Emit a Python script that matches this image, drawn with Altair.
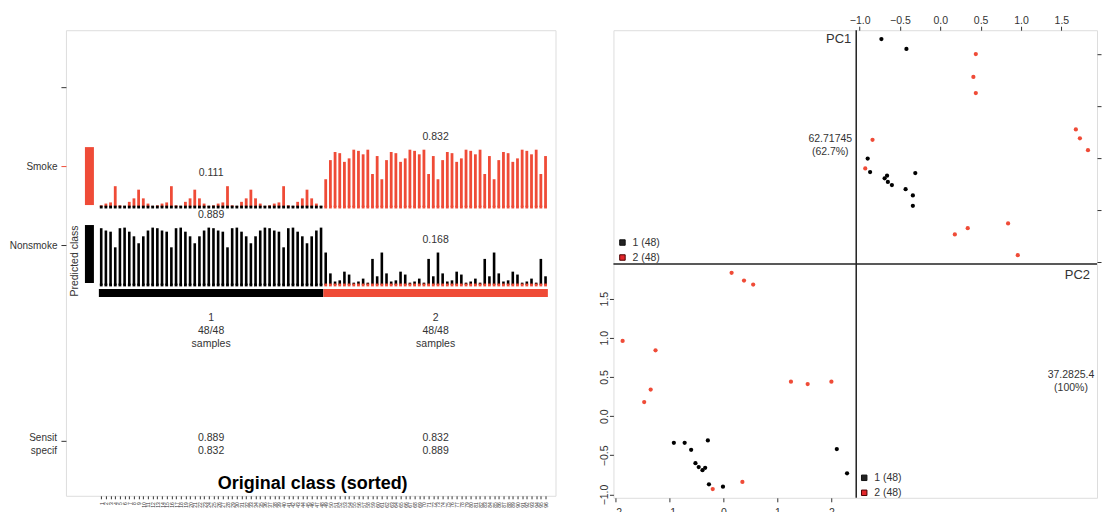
import altair as alt
import pandas as pd

RED = "#EF4B37"
INK = "#333333"
FONT = "Liberation Sans"

# ---------------- data ----------------
classes = ["1", "2"]
n_per_class = [48, 48]
n_correct = [48, 48]
row_labels = ["Smoke", "Nonsmoke"]
mean_smoke = [0.111, 0.832]
mean_nonsmoke = [0.889, 0.168]
sensitivity = [0.889, 0.832]
specificity = [0.832, 0.889]

smoke_prob = [
    # class 1
    0.03, 0.06, 0.08, 0.36, 0.03, 0.02, 0.09, 0.15, 0.30, 0.15, 0.06, 0.02,
    0.03, 0.06, 0.08, 0.36, 0.03, 0.02, 0.09, 0.15, 0.30, 0.15, 0.06, 0.02,
    0.03, 0.06, 0.08, 0.36, 0.03, 0.02, 0.09, 0.15, 0.30, 0.15, 0.06, 0.02,
    0.03, 0.06, 0.08, 0.36, 0.03, 0.02, 0.09, 0.15, 0.30, 0.15, 0.06, 0.02,
    # class 2
    0.48, 0.81, 0.95, 0.93, 0.78, 0.84, 0.99, 0.97, 0.91, 0.99, 0.57, 0.88,
    0.48, 0.81, 0.95, 0.93, 0.78, 0.84, 0.99, 0.97, 0.91, 0.99, 0.57, 0.88,
    0.48, 0.81, 0.95, 0.93, 0.78, 0.84, 0.99, 0.97, 0.91, 0.99, 0.57, 0.88,
    0.48, 0.81, 0.95, 0.93, 0.78, 0.84, 0.99, 0.97, 0.91, 0.99, 0.57, 0.88,
]
nonsmoke_prob = [
    # class 1
    0.98, 0.94, 0.92, 0.65, 0.98, 0.99, 0.92, 0.84, 0.72, 0.84, 0.94, 0.99,
    0.98, 0.94, 0.92, 0.65, 0.98, 0.99, 0.92, 0.84, 0.72, 0.84, 0.94, 0.99,
    0.98, 0.94, 0.92, 0.65, 0.98, 0.99, 0.92, 0.84, 0.72, 0.84, 0.94, 0.99,
    0.98, 0.94, 0.92, 0.65, 0.98, 0.99, 0.92, 0.84, 0.72, 0.84, 0.94, 0.99,
    # class 2
    0.56, 0.20, 0.06, 0.08, 0.23, 0.18, 0.04, 0.06, 0.11, 0.04, 0.45, 0.15,
    0.56, 0.20, 0.06, 0.08, 0.23, 0.18, 0.04, 0.06, 0.11, 0.04, 0.45, 0.15,
    0.56, 0.20, 0.06, 0.08, 0.23, 0.18, 0.04, 0.06, 0.11, 0.04, 0.45, 0.15,
    0.56, 0.20, 0.06, 0.08, 0.23, 0.18, 0.04, 0.06, 0.11, 0.04, 0.45, 0.15,
]

pc1_c1 = [-0.73, -0.42, -0.90, -0.87, -0.69, -0.66, -0.65, -0.60, -0.43, -0.34, -0.34, -0.31]
pc2_c1 = [2.29, 2.10, -0.01, -0.27, -0.39, -0.34, -0.46, -0.52, -0.60, -0.72, -0.92, -0.29]
pc1_c2 = [0.44, 0.41, 0.44, 1.68, 1.73, 1.83, -0.84, -0.93, 0.18, 0.34, 0.84, 0.96]
pc2_c2 = [2.00, 1.56, 1.25, 0.55, 0.38, 0.15, 0.35, -0.20, -1.47, -1.35, -1.26, -1.87]
pc_names = ["PC1", "PC2"]
pc_var_text = ["62.71745", "37.2825.4"]
pc_cum_pct = ["62.7%", "100%"]
pc1_ticks = [-1.0, -0.5, 0.0, 0.5, 1.0, 1.5]
pc2_ticks = [-2, -1, 0, 1, 2]

# ---------------- left chart: class probabilities ----------------
n = sum(n_per_class)
cls_col = [c for c, k in zip(classes, n_per_class) for _ in range(k)]
samples = pd.DataFrame({"sample": list(range(1, n + 1)), "cls": cls_col,
                        "smoke": smoke_prob, "nonsmoke": nonsmoke_prob})
SM_BASE, NS_BASE, BAR_H = 289, 211, 58
samples["s0"] = SM_BASE
samples["s1"] = SM_BASE + samples["smoke"] * BAR_H
samples["n0"] = NS_BASE
samples["n1"] = NS_BASE + samples["nonsmoke"] * BAR_H

x0, x1, xc = [], [], []
start = 0.5
for k in n_per_class:
    x0.append(start)
    x1.append(start + k)
    xc.append(start + k / 2)
    start += k
max_s = samples.groupby("cls")["smoke"].max().reindex(classes).tolist()
max_n = samples.groupby("cls")["nonsmoke"].max().reindex(classes).tolist()
summ = pd.DataFrame({
    "cls": classes, "x0": x0, "x1": x1, "xc": xc,
    "ms_txt": [f"{v:.3f}" for v in mean_smoke],
    "ms_y": [SM_BASE + m * BAR_H + 13 for m in max_s],
    "mn_txt": [f"{v:.3f}" for v in mean_nonsmoke],
    "mn_y": [NS_BASE + m * BAR_H + 13 for m in max_n],
    "lab_txt": [f"{c}\n{a}/{b}\nsamples" for c, a, b in zip(classes, n_correct, n_per_class)],
    "lab_y": [178] * len(classes),
    "se_txt": [f"{a:.3f}\n{b:.3f}" for a, b in zip(sensitivity, specificity)],
    "se_y": [58] * len(classes),
    "cb0": [199] * len(classes), "cb1": [207] * len(classes),
})
pred = pd.DataFrame({"cls": ["2", "1"], "r0": [SM_BASE + 2, NS_BASE + 2],
                     "r1": [SM_BASE + 2 + BAR_H, NS_BASE + 2 + BAR_H]})

xs = alt.Scale(domain=[-6.54, 98.13], nice=False, zero=False)
ys = alt.Scale(domain=[0, 466], nice=False, zero=False)
xaxis = alt.Axis(values=list(range(1, n + 1)), tickSize=3, tickColor=INK, labelFontSize=5,
                 labelAngle=270, labelAlign="right", labelBaseline="middle", labelPadding=3,
                 labelColor=INK, labelOverlap=False, labelFlush=False, domain=False,
                 grid=False, title=None)
yaxis = alt.Axis(values=[55, 251, 330, 409],
                 labelExpr=(f"datum.value == 330 ? '{row_labels[0]}' : datum.value == 251 ? "
                            f"'{row_labels[1]}' : ''"),
                 tickSize=5,
                 tickColor={"condition": {"test": "datum.value == 330", "value": RED}, "value": INK},
                 labelFontSize=10, labelColor=INK, labelPadding=4,
                 domain=False, grid=False, title=None)


def X(f):
    return alt.X(f"{f}:Q", scale=xs, axis=xaxis)


def Y(f):
    return alt.Y(f"{f}:Q", scale=ys, axis=yaxis)


color_cls = alt.Color("cls:N", scale=alt.Scale(domain=classes, range=["black", RED]), legend=None)
txt = dict(font=FONT, fontSize=10.5, color=INK)

base = alt.Chart(samples)
smoke_bars = base.mark_rule(color=RED, strokeWidth=2.8).encode(x=X("sample"), y=Y("s0"), y2="s1")
nons_bars = base.mark_rule(color="black", strokeWidth=2.6).encode(x=X("sample"), y=Y("n0"), y2="n1")
sm_dots = base.mark_square(size=8, opacity=1).encode(x=X("sample"), y=Y("s0"), color=color_cls)
ns_dots = base.mark_square(size=8, opacity=1).encode(x=X("sample"), y=Y("n0"), color=color_cls)
class_bar = alt.Chart(summ).mark_rect().encode(x=X("x0"), x2="x1", y=Y("cb0"), y2="cb1", color=color_cls)
ms_text = alt.Chart(summ).mark_text(**txt).encode(x=X("xc"), y=Y("ms_y"), text="ms_txt:N")
mn_text = alt.Chart(summ).mark_text(**txt).encode(x=X("xc"), y=Y("mn_y"), text="mn_txt:N")
lab_text = alt.Chart(summ).mark_text(lineBreak="\n", lineHeight=13, **txt).encode(
    x=X("xc"), y=Y("lab_y"), text="lab_txt:N")
se_text = alt.Chart(summ).mark_text(lineBreak="\n", lineHeight=13, **txt).encode(
    x=X("xc"), y=Y("se_y"), text="se_txt:N")
pred_rects = alt.Chart(pred).mark_rect().encode(
    x=alt.value(19), x2=alt.value(28), y=Y("r0"), y2="r1", color=color_cls)
title = alt.Chart(pd.DataFrame({"t": ["Original class (sorted)"]})).mark_text(
    font=FONT, fontSize=18, fontWeight="bold", color="black").encode(
    x=alt.value(247), y=alt.value(454), text="t:N")
pred_lab = alt.Chart(pd.DataFrame({"t": ["Predicted class"]})).mark_text(
    angle=270, **txt).encode(x=alt.value(9), y=alt.value(231), text="t:N")
se_lab = alt.Chart(pd.DataFrame({"t": ["Sensit\nspecif"]})).mark_text(
    font=FONT, fontSize=10, color=INK, align="right", baseline="middle", lineBreak="\n",
    lineHeight=13).encode(x=alt.value(-9), y=alt.value(408), text="t:N")

left = alt.layer(smoke_bars, nons_bars, sm_dots, ns_dots, class_bar, ms_text, mn_text,
                 lab_text, se_text, pred_rects, title, pred_lab, se_lab).properties(width=490, height=466)

# ---------------- right chart: PCA pairs ----------------
pts = pd.DataFrame({"PC1": pc1_c1 + pc1_c2, "PC2": pc2_c1 + pc2_c2,
                    "cls": ["1"] * len(pc1_c1) + ["2"] * len(pc1_c2)})
RW, RH = 484, 468
SX, SY = 243, 234
pc1_dom = [-1.042, 1.942]
pc2_dom = [-2.04, 2.46]
axc = dict(tickSize=4, tickColor=INK, labelFontSize=10.5, labelColor=INK, labelFont=FONT,
           domain=False, grid=False, title=None)

tr = alt.Chart(pts).mark_circle(size=18, opacity=1).encode(
    x=alt.X("PC1:Q", scale=alt.Scale(domain=pc1_dom, range=[SX, RW], nice=False, zero=False),
            axis=alt.Axis(orient="top", values=pc1_ticks, format=".1f", labelPadding=1, **axc)),
    y=alt.Y("PC2:Q", scale=alt.Scale(domain=pc2_dom, range=[SY, 0], nice=False, zero=False),
            axis=alt.Axis(orient="right", values=pc2_ticks, labels=False, tickSize=4,
                          tickColor=INK, domain=False, grid=False, title=None)),
    color=color_cls)
bl = alt.Chart(pts).mark_circle(size=18, opacity=1).encode(
    x=alt.X("PC2:Q", scale=alt.Scale(domain=pc2_dom, range=[0, SX], nice=False, zero=False),
            axis=alt.Axis(orient="bottom", values=pc2_ticks, format="d", labelPadding=6, **axc)),
    y=alt.Y("PC1:Q", scale=alt.Scale(domain=pc1_dom, range=[RH, SY], nice=False, zero=False),
            axis=alt.Axis(orient="left", values=pc1_ticks, format=".1f", labelAngle=270,
                          labelAlign="center", labelBaseline="bottom", labelPadding=0, **axc)),
    color=color_cls)

one = pd.DataFrame({"k": [0]})
vdiv = alt.Chart(one).mark_rule(color="#222", strokeWidth=1.5).encode(
    x=alt.value(SX), y=alt.value(0), y2=alt.value(RH))
hdiv = alt.Chart(one).mark_rule(color="#222", strokeWidth=1.5).encode(
    y=alt.value(SY), x=alt.value(0), x2=alt.value(RW))


def label(t, x, y, size=10.5, align="center", color=INK):
    return alt.Chart(pd.DataFrame({"t": [t]})).mark_text(
        font=FONT, fontSize=size, align=align, baseline="middle", color=color,
        lineBreak="\n", lineHeight=13).encode(x=alt.value(x), y=alt.value(y), text="t:N")


def legend(x, y):
    layers = []
    fills = ["#222222", "#E3262A"]
    strokes = ["#111111", "#4A0000"]
    for i, (c, k) in enumerate(zip(classes, n_per_class)):
        yy = y + 15 * i
        layers.append(alt.Chart(one).mark_square(size=30, opacity=1, fill=fills[i], stroke=strokes[i],
                                                 strokeWidth=1).encode(x=alt.value(x), y=alt.value(yy)))
        layers.append(label(f"{c} ({k})", x + 10, yy, align="left"))
    return layers


diag = [
    label(pc_names[0], 238, 9, size=13, align="right"),
    label(f"{pc_var_text[0]}\n({pc_cum_pct[0]})", 217, 109),
    label(pc_names[1], 477, 245, size=13, align="right"),
    label(f"{pc_var_text[1]}\n({pc_cum_pct[1]})", 458, 345),
] + legend(9, 212.5) + legend(251, 448)

right = alt.layer(tr, bl, vdiv, hdiv, *diag).resolve_scale(
    x="independent", y="independent").properties(width=RW, height=RH)

chart = alt.hconcat(left, right, spacing=58, bounds="flush").properties(
    padding={"left": 0, "top": 6, "right": 0, "bottom": 0}
).configure_view(stroke="#222", strokeWidth=1.5).configure(font=FONT)

chart.save("out.html", embed_options={"renderer": "svg", "actions": False})
